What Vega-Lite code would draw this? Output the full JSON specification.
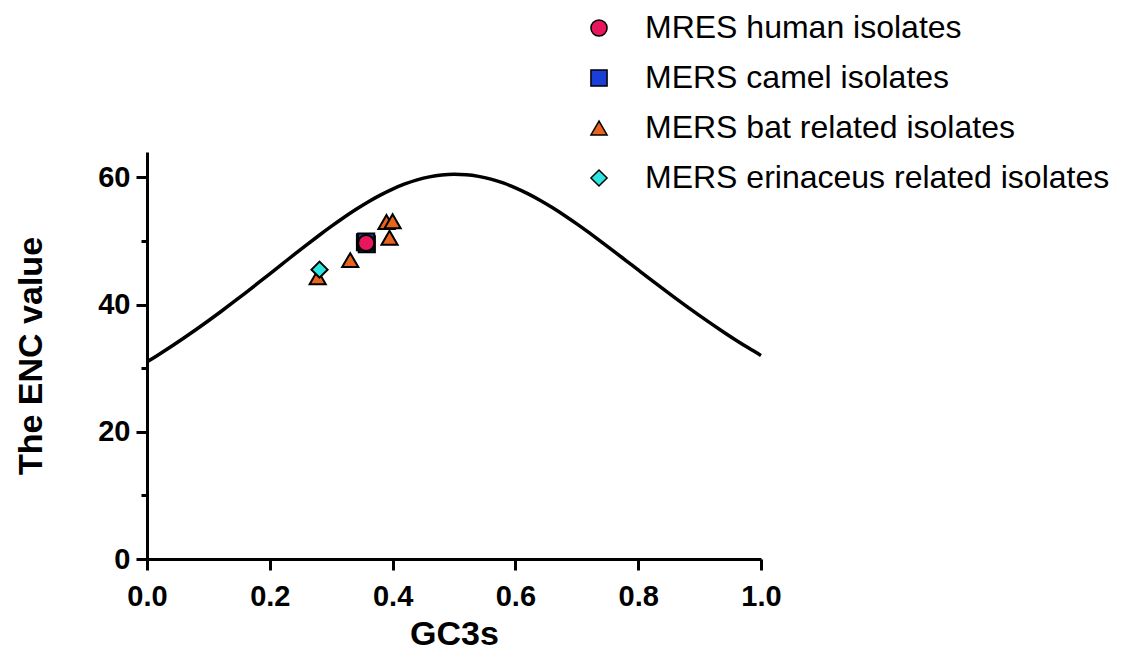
{
  "$schema": "https://vega.github.io/schema/vega-lite/v6.json",
  "width": 614,
  "height": 407,
  "autosize": "none",
  "padding": {"left": 147, "top": 152, "right": 374, "bottom": 95},
  "background": "white",
  "config": {"view": {"stroke": null}},
  "datasets": {
    "curve": [
      {"s": 0.00, "enc": 31.000}, {"s": 0.02, "enc": 32.203}, {"s": 0.04, "enc": 33.452}, {"s": 0.06, "enc": 34.747},
      {"s": 0.08, "enc": 36.086}, {"s": 0.10, "enc": 37.466}, {"s": 0.12, "enc": 38.885}, {"s": 0.14, "enc": 40.338},
      {"s": 0.16, "enc": 41.821}, {"s": 0.18, "enc": 43.326}, {"s": 0.20, "enc": 44.847}, {"s": 0.22, "enc": 46.373},
      {"s": 0.24, "enc": 47.895}, {"s": 0.26, "enc": 49.399}, {"s": 0.28, "enc": 50.872}, {"s": 0.30, "enc": 52.300},
      {"s": 0.32, "enc": 53.666}, {"s": 0.34, "enc": 54.952}, {"s": 0.36, "enc": 56.143}, {"s": 0.38, "enc": 57.221},
      {"s": 0.40, "enc": 58.169}, {"s": 0.42, "enc": 58.972}, {"s": 0.44, "enc": 59.617}, {"s": 0.46, "enc": 60.091},
      {"s": 0.48, "enc": 60.387}, {"s": 0.50, "enc": 60.500}, {"s": 0.52, "enc": 60.427}, {"s": 0.54, "enc": 60.171},
      {"s": 0.56, "enc": 59.737}, {"s": 0.58, "enc": 59.132}, {"s": 0.60, "enc": 58.369}, {"s": 0.62, "enc": 57.461},
      {"s": 0.64, "enc": 56.423}, {"s": 0.66, "enc": 55.272}, {"s": 0.68, "enc": 54.026}, {"s": 0.70, "enc": 52.700},
      {"s": 0.72, "enc": 51.312}, {"s": 0.74, "enc": 49.879}, {"s": 0.76, "enc": 48.415}, {"s": 0.78, "enc": 46.933},
      {"s": 0.80, "enc": 45.447}, {"s": 0.82, "enc": 43.966}, {"s": 0.84, "enc": 42.501}, {"s": 0.86, "enc": 41.058},
      {"s": 0.88, "enc": 39.645}, {"s": 0.90, "enc": 38.266}, {"s": 0.92, "enc": 36.926}, {"s": 0.94, "enc": 35.627},
      {"s": 0.96, "enc": 34.372}, {"s": 0.98, "enc": 33.163}, {"s": 1.00, "enc": 32.000}
    ],
    "points": [
      {"group": "MERS camel isolates", "gc3s": 0.355, "enc": 49.8},
      {"group": "MERS camel isolates", "gc3s": 0.358, "enc": 49.5},
      {"group": "MERS camel isolates", "gc3s": 0.357, "enc": 49.9},
      {"group": "MRES human isolates", "gc3s": 0.357, "enc": 49.7},
      {"group": "MERS bat related isolates", "gc3s": 0.278, "enc": 44.3},
      {"group": "MERS bat related isolates", "gc3s": 0.331, "enc": 47.0},
      {"group": "MERS bat related isolates", "gc3s": 0.395, "enc": 50.5},
      {"group": "MERS bat related isolates", "gc3s": 0.390, "enc": 53.0},
      {"group": "MERS bat related isolates", "gc3s": 0.400, "enc": 53.1},
      {"group": "MERS erinaceus related isolates", "gc3s": 0.281, "enc": 45.5}
    ]
  },
  "resolve": {"axis": {"y": "independent"}},
  "layer": [
    {
      "data": {"name": "curve"},
      "mark": {"type": "line", "color": "black", "strokeWidth": 3.5, "interpolate": "monotone"},
      "encoding": {
        "x": {
          "field": "s", "type": "quantitative",
          "scale": {"domain": [0, 1], "nice": false, "zero": false},
          "axis": {
            "values": [0, 0.2, 0.4, 0.6, 0.8, 1.0], "format": ".1f", "grid": false,
            "domainColor": "black", "domainWidth": 3, "tickColor": "black", "tickWidth": 3, "tickSize": 11,
            "labelFont": "Liberation Sans", "labelFontWeight": "bold", "labelFontSize": 29, "labelColor": "black",
            "labelPadding": 12, "labelFlush": false, "labelOverlap": false,
            "title": "GC3s", "titleFont": "Liberation Sans", "titleFontWeight": "bold",
            "titleFontSize": 34, "titleColor": "black", "titlePadding": 6
          }
        },
        "y": {
          "field": "enc", "type": "quantitative",
          "scale": {"domain": [0, 64], "nice": false, "zero": false},
          "axis": {
            "orient": "left", "values": [0, 20, 40, 60], "grid": false,
            "domainColor": "black", "domainWidth": 3, "tickColor": "black", "tickWidth": 3, "tickSize": 11,
            "labelFont": "Liberation Sans", "labelFontWeight": "bold", "labelFontSize": 29, "labelColor": "black",
            "labelPadding": 6, "labelFlush": false, "labelOverlap": false,
            "title": "The ENC value", "titleFont": "Liberation Sans", "titleFontWeight": "bold",
            "titleFontSize": 34, "titleColor": "black", "titlePadding": 49
          }
        }
      }
    },
    {
      "data": {"name": "points"},
      "mark": {"type": "point", "filled": true, "stroke": "black", "strokeWidth": 2, "opacity": 1, "size": 260},
      "encoding": {
        "x": {"field": "gc3s", "type": "quantitative"},
        "y": {
          "field": "enc", "type": "quantitative",
          "axis": {
            "orient": "left", "values": [10, 30, 50], "labels": false, "domain": false, "grid": false,
            "tickColor": "black", "tickWidth": 3, "tickSize": 6, "title": null
          }
        },
        "shape": {
          "field": "group", "type": "nominal",
          "scale": {
            "domain": ["MRES human isolates", "MERS camel isolates", "MERS bat related isolates", "MERS erinaceus related isolates"],
            "range": ["circle", "square", "triangle-up", "diamond"]
          },
          "legend": {
            "orient": "none", "legendX": 436, "legendY": -140, "title": null,
            "labelFont": "Liberation Sans", "labelFontSize": 32, "labelColor": "black", "labelOffset": 30,
            "symbolSize": 260, "rowPadding": 18, "labelLimit": 600,
            "encode": {"symbols": {"update": {"stroke": {"value": "black"}, "strokeWidth": {"value": 2}}}}
          }
        },
        "fill": {
          "field": "group", "type": "nominal",
          "scale": {
            "domain": ["MRES human isolates", "MERS camel isolates", "MERS bat related isolates", "MERS erinaceus related isolates"],
            "range": ["#E8175D", "#1A3FD6", "#E8641C", "#2EE6DF"]
          },
          "legend": {
            "orient": "none", "legendX": 436, "legendY": -140, "title": null,
            "labelFont": "Liberation Sans", "labelFontSize": 32, "labelColor": "black", "labelOffset": 30,
            "symbolSize": 260, "rowPadding": 18, "labelLimit": 600,
            "encode": {"symbols": {"update": {"stroke": {"value": "black"}, "strokeWidth": {"value": 2}}}}
          }
        }
      }
    }
  ]
}
